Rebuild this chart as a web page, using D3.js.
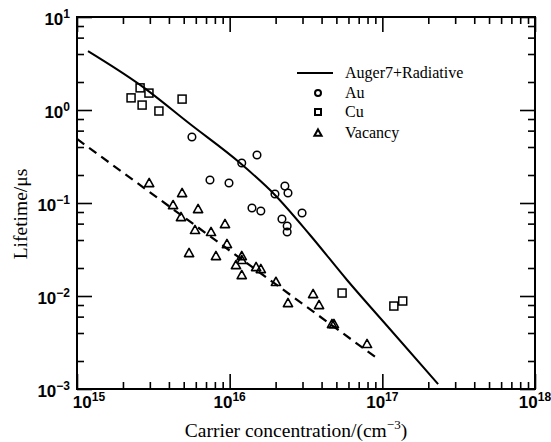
<!DOCTYPE html>
<meta charset="utf-8">
<style>
body{ margin: 0; background: #fff }
</style>
<body>
<script src="https://d3js.org/d3.v7.min.js"></script>
<script>

var width = 551,
    height = 442,
    margin = {left: 77, top: 17, right: 16, bottom: 53};

var sansBold = "'Liberation Sans', Arial, Helvetica, sans-serif",
    serif = "'Liberation Serif', 'Times New Roman', 'DejaVu Serif', serif";

// tick labels (exponents of ten)
var xExponents = [15, 16, 17, 18];
var yExponents = [-3, -2, -1, 0, 1];

// Auger7+Radiative model curve
var augerN = [1.18e15, 2.59e15, 5.5e15, 1.17e16, 1.98e16, 3.36e16, 5.87e16, 1.12e17, 2.32e17];
var augerT = [4.3, 1.86, 0.706, 0.269, 0.122, 0.0453, 0.01486, 0.00442, 0.00113];

// dashed fit through vacancy data
var fitN = [1e15, 9.38e16];
var fitT = [0.488, 0.0021];

// Au
var auN = [5.66e15, 1.51e16, 1.20e16, 7.43e15, 9.9e15, 2.30e16, 1.98e16, 2.41e16, 1.40e16, 1.60e16, 2.98e16, 2.20e16, 2.38e16, 2.38e16];
var auT = [0.513, 0.328, 0.269, 0.177, 0.164, 0.152, 0.125, 0.128, 0.0883, 0.082, 0.078, 0.0673, 0.0566, 0.0488];

// Cu
var cuN = [2.59e15, 2.96e15, 2.26e15, 2.67e15, 3.44e15, 4.88e15, 5.45e16, 1.19e17, 1.36e17];
var cuT = [1.73, 1.52, 1.35, 1.13, 0.975, 1.31, 0.01076, 0.0078, 0.00883];

// Vacancy
var vacN = [2.97e15, 4.88e15, 4.26e15, 6.21e15, 4.80e15, 5.93e15, 7.55e15, 9.32e15, 5.42e15, 9.6e15, 8.13e15, 1.20e16,
            1.20e16, 1.10e16, 1.49e16, 1.60e16, 1.20e16, 2.01e16, 2.41e16, 3.52e16, 3.85e16, 4.68e16, 4.82e16, 7.94e16];
var vacT = [0.164, 0.128, 0.095, 0.0861, 0.0706, 0.0513, 0.0488, 0.0594, 0.029, 0.0362, 0.0269, 0.0269,
            0.0244, 0.0215, 0.0205, 0.0195, 0.0168, 0.0142, 0.0084, 0.0105, 0.0080, 0.0050, 0.0050, 0.00305];

var w = width - margin.left - margin.right,
    h = height - margin.top - margin.bottom;

var svg = d3.select("body").append("svg")
    .attr("width", width)
    .attr("height", height);

var g = svg.append("g")
    .attr("transform", "translate(" + margin.left + "," + margin.top + ")");

var x = d3.scaleLog()
    .domain([1e15, 1e18])
    .range([0, w]);

var y = d3.scaleLog()
    .domain([1e-3, 1e1])
    .range([h, 0]);

var zip = (a, b) => a.map((v, i) => [v, b[i]]);

// ticks: majors at decades, minors at 2..9 (x) and 2,4,6,8 (y)
var xMajor = xExponents.map(e => Math.pow(10, e));
var yMajor = yExponents.map(e => Math.pow(10, e));
var xMinor = [], yMinor = [];
xExponents.slice(0, -1).forEach(e => {
    for (var k = 2; k <= 9; k++) xMinor.push(k * Math.pow(10, e));
});
yExponents.slice(0, -1).forEach(e => {
    [2, 4, 6, 8].forEach(k => yMinor.push(k * Math.pow(10, e)));
});

function drawAxis(axis, transform) {
    var a = g.append("g")
        .attr("transform", transform)
        .call(axis.tickFormat(""));
    a.select(".domain").remove();
    a.selectAll("line").attr("stroke", "#000").attr("stroke-width", 1.6);
}

drawAxis(d3.axisBottom(x).tickValues(xMajor).tickSize(-15), "translate(0," + h + ")");
drawAxis(d3.axisBottom(x).tickValues(xMinor).tickSize(-7), "translate(0," + h + ")");
drawAxis(d3.axisTop(x).tickValues(xMajor).tickSize(-15), "translate(0,0)");
drawAxis(d3.axisTop(x).tickValues(xMinor).tickSize(-7), "translate(0,0)");
drawAxis(d3.axisLeft(y).tickValues(yMajor).tickSize(-15), "translate(0,0)");
drawAxis(d3.axisLeft(y).tickValues(yMinor).tickSize(-7), "translate(0,0)");
drawAxis(d3.axisRight(y).tickValues(yMajor).tickSize(-15), "translate(" + w + ",0)");
drawAxis(d3.axisRight(y).tickValues(yMinor).tickSize(-7), "translate(" + w + ",0)");

g.append("rect")
    .attr("width", w)
    .attr("height", h)
    .attr("fill", "none")
    .attr("stroke", "#000")
    .attr("stroke-width", 2);

// tick labels
var xl = g.selectAll(".xlab")
    .data(xExponents)
  .enter().append("text")
    .attr("font-family", sansBold)
    .attr("font-weight", "bold")
    .attr("font-size", "17px")
    .attr("fill", "#000")
    .attr("x", (d, i) => x(Math.pow(10, d)) + (i == 0 ? 12 : 0))
    .attr("y", h + 19)
    .attr("text-anchor", "middle")
    .text("10");
xl.append("tspan")
    .attr("dy", -7)
    .attr("font-size", "12px")
    .text(d => d);

var yl = g.selectAll(".ylab")
    .data(yExponents)
  .enter().append("text")
    .attr("font-family", sansBold)
    .attr("font-weight", "bold")
    .attr("font-size", "17px")
    .attr("fill", "#000")
    .attr("x", -7)
    .attr("y", d => y(Math.pow(10, d)) + 8)
    .attr("text-anchor", "end")
    .text("10");
yl.append("tspan")
    .attr("dy", -7)
    .attr("font-size", "12px")
    .text(d => d < 0 ? "\u2212" + (-d) : d);

// axis titles
var xt = svg.append("text")
    .attr("font-family", serif)
    .attr("font-size", "19.5px")
    .attr("fill", "#000")
    .attr("x", 296)
    .attr("y", 437)
    .attr("text-anchor", "middle")
    .text("Carrier concentration/(cm");
xt.append("tspan").attr("dy", -8).attr("font-size", "13px").text("\u22123");
xt.append("tspan").attr("dy", 8).text(")");

svg.append("text")
    .attr("font-family", serif)
    .attr("font-size", "19.5px")
    .attr("fill", "#000")
    .attr("transform", "translate(27,214) rotate(-90)")
    .attr("text-anchor", "middle")
    .text("Lifetime/\u03bcs");

// lines
var line = d3.line()
    .x(d => x(d[0]))
    .y(d => y(d[1]))
    .curve(d3.curveMonotoneX);

g.append("path")
    .datum(zip(augerN, augerT))
    .attr("d", line)
    .attr("fill", "none")
    .attr("stroke", "#000")
    .attr("stroke-width", 2);

g.append("path")
    .datum(zip(fitN, fitT))
    .attr("d", line)
    .attr("fill", "none")
    .attr("stroke", "#000")
    .attr("stroke-width", 2.2)
    .attr("stroke-dasharray", "9,6");

// markers
var tri = s => "M0," + (-s) + "L" + s + "," + (s * 0.78) + "L" + (-s) + "," + (s * 0.78) + "Z";

g.selectAll(".au")
    .data(zip(auN, auT))
  .enter().append("circle")
    .attr("cx", d => x(d[0]))
    .attr("cy", d => y(d[1]))
    .attr("r", 3.8)
    .attr("fill", "none")
    .attr("stroke", "#000")
    .attr("stroke-width", 1.5);

g.selectAll(".cu")
    .data(zip(cuN, cuT))
  .enter().append("rect")
    .attr("x", d => x(d[0]) - 4)
    .attr("y", d => y(d[1]) - 4)
    .attr("width", 8)
    .attr("height", 8)
    .attr("fill", "none")
    .attr("stroke", "#000")
    .attr("stroke-width", 1.5);

g.selectAll(".vac")
    .data(zip(vacN, vacT))
  .enter().append("path")
    .attr("transform", d => "translate(" + x(d[0]) + "," + y(d[1]) + ")")
    .attr("d", tri(4.6))
    .attr("fill", "none")
    .attr("stroke", "#000")
    .attr("stroke-width", 1.6)
    .attr("stroke-linejoin", "round");

// legend
var legend = svg.append("g");
legend.append("line")
    .attr("x1", 297).attr("x2", 333)
    .attr("y1", 73).attr("y2", 73)
    .attr("stroke", "#000").attr("stroke-width", 2);
legend.append("circle")
    .attr("cx", 318).attr("cy", 93).attr("r", 3)
    .attr("fill", "none").attr("stroke", "#000").attr("stroke-width", 2);
legend.append("rect")
    .attr("x", 315).attr("y", 109).attr("width", 6).attr("height", 6)
    .attr("fill", "none").attr("stroke", "#000").attr("stroke-width", 2);
legend.append("path")
    .attr("transform", "translate(318,133)")
    .attr("d", tri(3.6))
    .attr("fill", "none").attr("stroke", "#000").attr("stroke-width", 2);

var legendNames = ["Auger7+Radiative", "Au", "Cu", "Vacancy"];
var legendY = [78, 98, 117, 138];
legend.selectAll(".ln")
    .data(legendNames)
  .enter().append("text")
    .attr("font-family", serif)
    .attr("font-size", "16px")
    .attr("fill", "#000")
    .attr("x", 345)
    .attr("y", (d, i) => legendY[i])
    .text(d => d);

</script>
